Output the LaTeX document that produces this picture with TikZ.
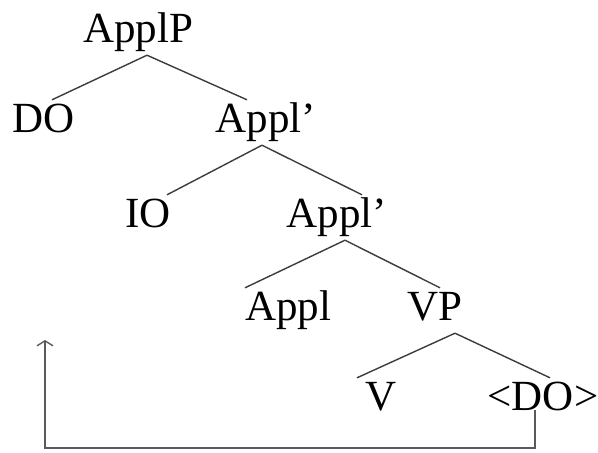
\documentclass[tikz,border=0pt]{standalone}
\usepackage{fontspec}
\setmainfont{Liberation Serif}
\usepackage{tikz}
\usetikzlibrary{arrows.meta}
\definecolor{branchcolor}{RGB}{60,60,60}
\definecolor{movecolor}{RGB}{90,90,90}

\begin{document}
\begin{tikzpicture}[
    x=1pt, y=-1pt,
    cat/.style={anchor=base, inner xsep=2pt, inner ysep=3pt, text height=29pt, text depth=10pt, font=\fontsize{43}{50}\selectfont},
    branch/.style={draw=branchcolor, line width=1.4pt},
    movement/.style={draw=movecolor, line width=2.2pt, -{Straight Barb[length=5pt,width=16pt,line width=1.4pt]}}
]
    \useasboundingbox (0,0) rectangle (598,453);

    \node[cat] (applp) at (138,42) {ApplP};
    \node[cat] (do) at (44,132) {DO};
    \node[cat] (applbar) at (266,132) {Appl’};
    \node[cat] (io) at (148,227) {IO};
    \node[cat] (applbarb) at (337,227) {Appl’};
    \node[cat] (appl) at (288,320) {Appl};
    \node[cat] (vp) at (435,320) {VP};
    \node[cat] (v) at (381,410) {V};
    \node[cat] (dotrace) at (543,410) {<DO>};

    \draw[branch] ([xshift=9pt]applp.south) -- ([xshift=8pt]do.north);
    \draw[branch] ([xshift=9pt]applp.south) -- ([xshift=-19pt]applbar.north);
    \draw[branch] ([xshift=-4pt]applbar.south) -- ([xshift=19pt]io.north);
    \draw[branch] ([xshift=-4pt]applbar.south) -- ([xshift=25pt]applbarb.north);
    \draw[branch] ([xshift=8pt]applbarb.south) -- ([xshift=-43pt]appl.north);
    \draw[branch] ([xshift=8pt]applbarb.south) -- ([xshift=5pt]vp.north);
    \draw[branch] ([xshift=20pt]vp.south) -- ([xshift=-24pt]v.north);
    \draw[branch] ([xshift=20pt]vp.south) -- ([xshift=7pt]dotrace.north);

    % movement of DO
    \coordinate (corner) at (45,448);
    \coordinate (landing) at (45,340);
    \draw[movement] ([xshift=-8pt]dotrace.base) |- (corner) -- (landing);
\end{tikzpicture}
\end{document}
